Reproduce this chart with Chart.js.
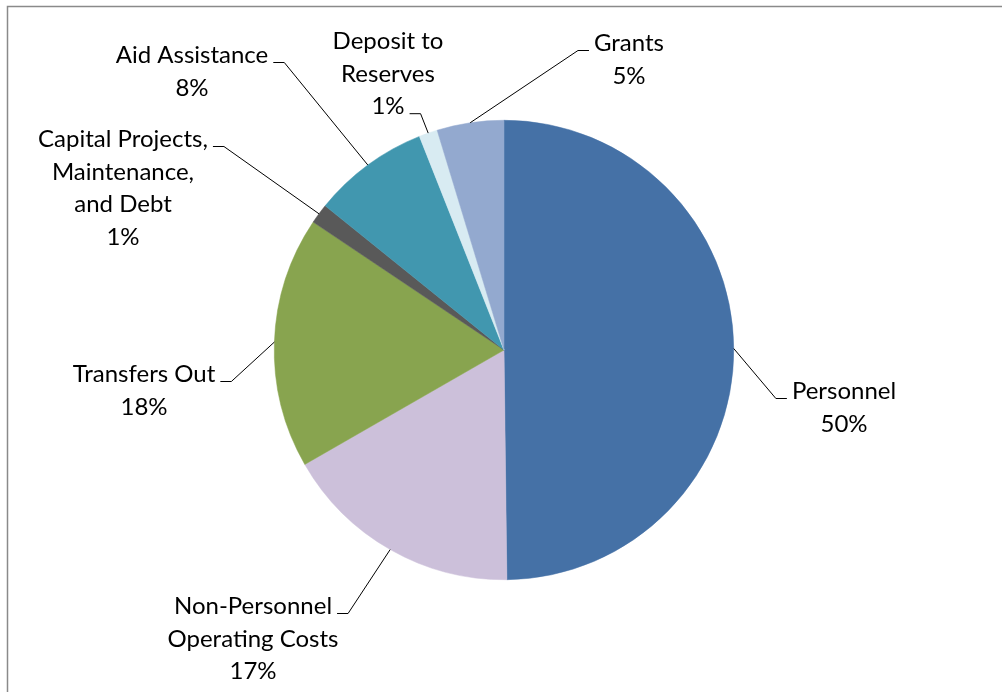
<!DOCTYPE html>
<html>
<head>
<meta charset="utf-8">
<title>Expenditures by Category</title>
<script src="https://cdn.jsdelivr.net/npm/chart.js@4/dist/chart.umd.min.js"></script>
<style>
    html, body { margin: 0; padding: 0; background: #fff; overflow: hidden; }
    #wrap { width: 1002px; height: 692px; }
</style>
</head>
<body>
<div id="wrap"><canvas id="pie-chart" width="1002" height="692"></canvas></div>
<script>
// Dados do gráfico
const categories = ['Personnel', 'Non-Personnel Operating Costs', 'Transfers Out',
    'Capital Projects, Maintenance, and Debt', 'Aid Assistance', 'Deposit to Reserves', 'Grants'];
const labelLines = [
    ['Personnel'],
    ['Non-Personnel', 'Operating Costs'],
    ['Transfers Out'],
    ['Capital Projects,', 'Maintenance,', 'and Debt'],
    ['Aid Assistance'],
    ['Deposit to', 'Reserves'],
    ['Grants']
];
const shares = [49.8, 16.9, 17.7, 1.4, 8.2, 1.3, 4.7];
const sliceColors = ['#4571A6', '#CCC0DA', '#88A44F', '#595959', '#4197AF', '#D8EBF2', '#93A9CF'];

// Posição dos rótulos: centro do texto, linha base da primeira linha,
// linha onde a guia se liga e lado de saída da guia
const labelPlacement = [
    { x: 844, y: 399, attach: 0, side: 'left' },
    { x: 253, y: 614, attach: 0, side: 'right' },
    { x: 144, y: 382, attach: 0, side: 'right' },
    { x: 123, y: 147, attach: 0, side: 'right' },
    { x: 192, y: 63, attach: 0, side: 'right' },
    { x: 388, y: 49, attach: 2, side: 'right' },
    { x: 629, y: 51, attach: 0, side: 'left' }
];

const FONT = '24px Lato, "Open Sans", sans-serif';
const LINE_H = 32.6;

// Moldura cinza do gráfico
const framePlugin = {
    id: 'frame',
    beforeDraw(chart) {
        const ctx = chart.ctx;
        ctx.save();
        ctx.fillStyle = '#fff';
        ctx.fillRect(0, 0, chart.width, chart.height);
        ctx.strokeStyle = '#8a8a8a';
        ctx.lineWidth = 1.5;
        ctx.strokeRect(7.5, 6.5, chart.width + 20, chart.height + 20);
        ctx.restore();
    }
};

// Rótulos com linhas guia
const leaderLabels = {
    id: 'leaderLabels',
    afterDatasetsDraw(chart) {
        const ctx = chart.ctx;
        const meta = chart.getDatasetMeta(0);
        const values = chart.data.datasets[0].data;
        const total = values.reduce((a, b) => a + b, 0);

        ctx.save();
        ctx.font = FONT;
        ctx.fillStyle = '#000';
        ctx.textAlign = 'center';
        ctx.textBaseline = 'alphabetic';

        meta.data.forEach((arc, i) => {
            const p = arc.getProps(['x', 'y', 'startAngle', 'endAngle', 'outerRadius'], true);
            const mid = (p.startAngle + p.endAngle) / 2;
            const ax = p.x + Math.cos(mid) * p.outerRadius;
            const ay = p.y + Math.sin(mid) * p.outerRadius;

            const pos = labelPlacement[i];
            const lines = labelLines[i].concat([Math.round(values[i] / total * 100) + '%']);
            lines.forEach((txt, k) => {
                ctx.fillText(txt, pos.x, pos.y + k * LINE_H);
            });

            // Linha guia: segmento horizontal curto e depois diagonal até a fatia
            const w = ctx.measureText(lines[pos.attach]).width;
            const ly = pos.y + pos.attach * LINE_H - 0.5;
            let x0, x1;
            if (pos.side === 'right') {
                x0 = pos.x + w / 2 + 5;
                x1 = x0 + 11;
            } else {
                x0 = pos.x - w / 2 - 5;
                x1 = x0 - 11;
            }
            ctx.beginPath();
            ctx.strokeStyle = '#000';
            ctx.lineWidth = 1;
            ctx.moveTo(x0, ly);
            ctx.lineTo(x1, ly);
            ctx.lineTo(ax, ay);
            ctx.stroke();
        });
        ctx.restore();
    }
};

document.addEventListener('DOMContentLoaded', () => {
    const ctx = document.getElementById('pie-chart');
    new Chart(ctx, {
        type: 'pie',
        data: {
            labels: categories,
            datasets: [{
                data: shares,
                backgroundColor: sliceColors,
                borderColor: sliceColors,
                borderWidth: 0.5
            }]
        },
        options: {
            responsive: false,
            animation: false,
            rotation: 0,
            layout: {
                padding: { top: 120, bottom: 112, left: 274, right: 268 }
            },
            plugins: {
                legend: { display: false },
                tooltip: { enabled: false }
            }
        },
        plugins: [framePlugin, leaderLabels]
    });
});
</script>
</body>
</html>
